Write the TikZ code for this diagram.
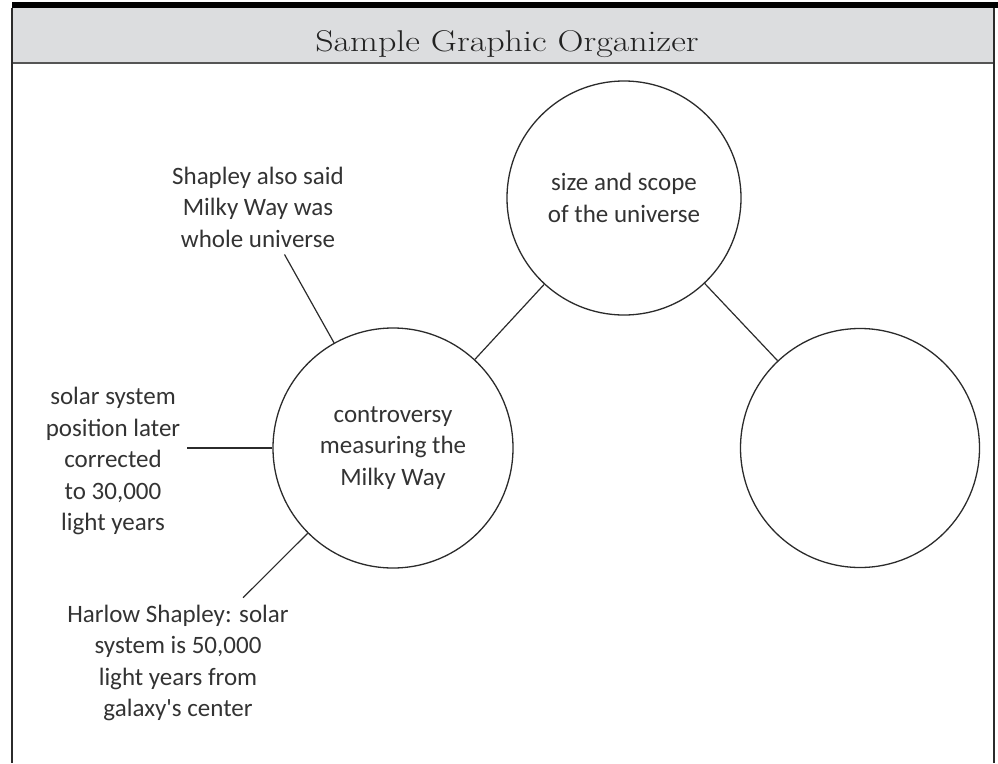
\documentclass[tikz,border=0pt]{standalone}
\usepackage{fontspec}
\usepackage{graphicx}
\usepackage{tikz}
\usetikzlibrary{positioning}
\newfontfamily\notefont{Carlito}
\definecolor{oink}{HTML}{222222}
\definecolor{oline}{HTML}{2B2B2B}
\definecolor{otext}{HTML}{333333}
\definecolor{ohead}{HTML}{DCDDDF}
\definecolor{orule}{HTML}{555555}
\tikzset{
  bubble/.style={draw=oline, line width=1.3pt, circle, inner sep=0pt, align=center,
                 text=otext, font=\notefont\fontsize{25}{31.5}\selectfont},
  note/.style={align=center, text=otext, inner sep=7pt,
               font=\notefont\fontsize{25}{31.5}\selectfont},
  link/.style={draw=oline, line width=1.2pt},
  frameline/.style={draw=oline, line width=1.5pt},
  headtitle/.style={anchor=base, text=oink, font=\fontsize{30}{36}\selectfont},
}

\begin{document}
\begin{tikzpicture}[x=1pt, y=-1pt]
    \useasboundingbox (0,0) rectangle (998,763);
    \fill[ohead] (12,8) rectangle (994,63);
    \fill[black] (12,2) rectangle (998,8);
    \draw[orule, line width=2pt] (12,63) -- (994,63);
    \draw[frameline] (12,8) -- (12,763);
    \draw[frameline] (994,8) -- (994,763);
    \node[headtitle] (title) at (507,51) {\scalebox{1.2}[1]{Sample Graphic Organizer}};

    \node[bubble, minimum size=234pt] (scope) at (624,198) {size and scope\\of the universe};
    \node[bubble, minimum size=240pt] (milky) at (393,448) {controversy\\measuring the\\Milky Way};
    \node[bubble, minimum size=239pt] (blank) at (860,448) {};

    \node[note] (said) at (258,207) {Shapley also said\\Milky Way was\\whole universe};
    \node[note] (solar) at (113,461) {solar system\\position later\\corrected\\to 30,000\\light years};
    \node[note] (harlow) at (178,663) {Harlow Shapley: solar\\system is 50,000\\light years from\\galaxy's center};

    \draw[link] (scope) -- (milky);
    \draw[link] (scope) -- (blank);
    \draw[link] (milky) -- (said);
    \draw[link] (milky.west) -- (milky.west -| solar.east);
    \draw[link] (milky) -- (harlow);
  \end{tikzpicture}
\end{document}
